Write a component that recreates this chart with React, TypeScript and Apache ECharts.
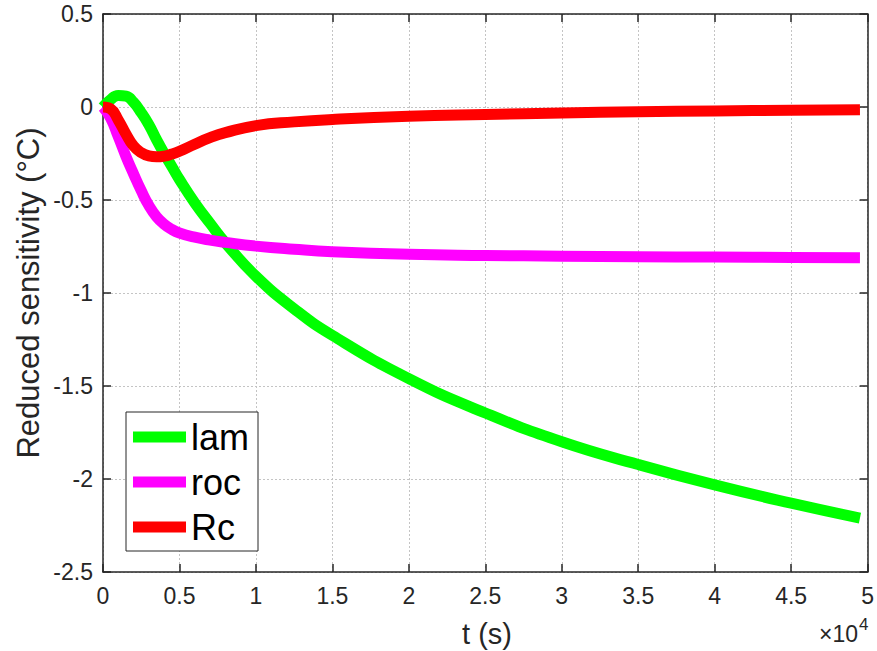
import React, { useEffect, useRef } from "react";
import * as echarts from "echarts";

// time in units of 10^4 s
const timeE4 = [0, 0.05, 0.1, 0.15, 0.2, 0.25, 0.3, 0.35, 0.4, 0.45, 0.5, 0.6, 0.7, 0.8, 1.0, 1.25, 1.5, 2, 2.5, 3, 3.5, 4, 4.5, 4.95];
const lam = [0, 0.04, 0.062, 0.058, 0.025, -0.03, -0.095, -0.175, -0.25, -0.32, -0.39, -0.515, -0.625, -0.73, -0.91, -1.085, -1.228, -1.46, -1.645, -1.8, -1.922, -2.032, -2.13, -2.21];
const roc = [0, -0.06, -0.16, -0.265, -0.36, -0.45, -0.53, -0.59, -0.63, -0.658, -0.677, -0.7, -0.716, -0.728, -0.748, -0.765, -0.778, -0.792, -0.798, -0.802, -0.805, -0.807, -0.809, -0.81];
const rc = [0, -0.01, -0.07, -0.145, -0.21, -0.245, -0.263, -0.268, -0.264, -0.253, -0.238, -0.2, -0.165, -0.138, -0.1, -0.08, -0.067, -0.05, -0.04, -0.032, -0.026, -0.021, -0.017, -0.015];

const seriesNames = ["lam", "roc", "Rc"];
const seriesColors = ["#00ff00", "#ff00ff", "#ff0000"];
const seriesValues = [lam, roc, rc];

const xTitle = "t (s)";
const yTitle = "Reduced sensitivity (°C)";
const exponentBase = "×10";
const exponentPower = "4";

const AXIS = "#262626";
const FONT = "'Liberation Sans', Arial, Helvetica, sans-serif";

export default function App() {
  const ref = useRef<HTMLDivElement>(null);
  useEffect(() => {
    if (!ref.current) return;
    const chart = echarts.init(ref.current, undefined, { renderer: "svg" });
    const axisCommon = {
      axisLine: { show: true, onZero: false, lineStyle: { color: AXIS, width: 1.5 } },
      axisTick: { show: true, inside: true, length: 8, lineStyle: { color: AXIS, width: 1.5 } },
    };
    chart.setOption({
      animation: false,
      backgroundColor: "#ffffff",
      textStyle: { fontFamily: FONT },
      grid: { left: 103, right: 7, top: 14, bottom: 79, containLabel: false },
      legend: {
        orient: "vertical",
        left: 126,
        top: 412,
        icon: "rect",
        itemWidth: 53,
        itemHeight: 11,
        itemGap: 9,
        padding: [7, 9, 6, 7],
        backgroundColor: "#ffffff",
        borderColor: AXIS,
        borderWidth: 1,
        borderRadius: 0,
        textStyle: { fontSize: 36, color: "#000000", fontFamily: FONT, lineHeight: 34 },
        data: seriesNames,
      },
      xAxis: [
        {
          type: "value",
          min: 0,
          max: 50000,
          interval: 5000,
          position: "bottom",
          ...axisCommon,
          axisLabel: {
            fontSize: 23,
            color: AXIS,
            margin: 12,
            fontFamily: FONT,
            formatter: (v: number) => String(Math.round(v / 1000) / 10),
          },
          splitLine: { show: true, lineStyle: { color: "#c4c4c4", width: 1, type: [2, 2] } },
        },
        {
          type: "value",
          min: 0,
          max: 50000,
          interval: 5000,
          position: "top",
          ...axisCommon,
          axisLabel: { show: false },
          splitLine: { show: false },
        },
      ],
      yAxis: [
        {
          type: "value",
          min: -2.5,
          max: 0.5,
          interval: 0.5,
          position: "left",
          ...axisCommon,
          axisLabel: { fontSize: 23, color: AXIS, margin: 10, fontFamily: FONT },
          splitLine: { show: true, lineStyle: { color: "#c4c4c4", width: 1, type: [2, 2] } },
        },
        {
          type: "value",
          min: -2.5,
          max: 0.5,
          interval: 0.5,
          position: "right",
          ...axisCommon,
          axisLabel: { show: false },
          splitLine: { show: false },
        },
      ],
      series: seriesNames.map((name, i) => ({
        name,
        type: "line",
        xAxisIndex: 0,
        yAxisIndex: 0,
        data: timeE4.map((t, j) => [t * 10000, seriesValues[i][j]]),
        smooth: 0.5,
        showSymbol: false,
        symbol: "none",
        color: seriesColors[i],
        lineStyle: { width: 11, color: seriesColors[i], cap: "butt", join: "round" },
        z: 2 + i,
      })),
      graphic: [
        {
          type: "text",
          x: 28,
          y: 293,
          rotation: Math.PI / 2,
          style: {
            text: yTitle,
            fontSize: 31,
            fontFamily: FONT,
            fill: AXIS,
            align: "center",
            verticalAlign: "middle",
          },
        },
        {
          type: "text",
          x: 487,
          y: 634,
          style: {
            text: xTitle,
            fontSize: 29,
            fontFamily: FONT,
            fill: AXIS,
            align: "center",
            verticalAlign: "middle",
          },
        },
        {
          type: "text",
          x: 858,
          y: 634,
          style: {
            text: exponentBase,
            fontSize: 23,
            fontFamily: FONT,
            fill: AXIS,
            align: "right",
            verticalAlign: "middle",
          },
        },
        {
          type: "text",
          x: 859,
          y: 624,
          style: {
            text: exponentPower,
            fontSize: 17,
            fontFamily: FONT,
            fill: AXIS,
            align: "left",
            verticalAlign: "middle",
          },
        },
      ],
    });
    return () => chart.dispose();
  }, []);
  return (
    <div
      ref={ref}
      style={{ position: "absolute", left: 0, top: 0, width: 877, height: 651, background: "#fff" }}
    />
  );
}
